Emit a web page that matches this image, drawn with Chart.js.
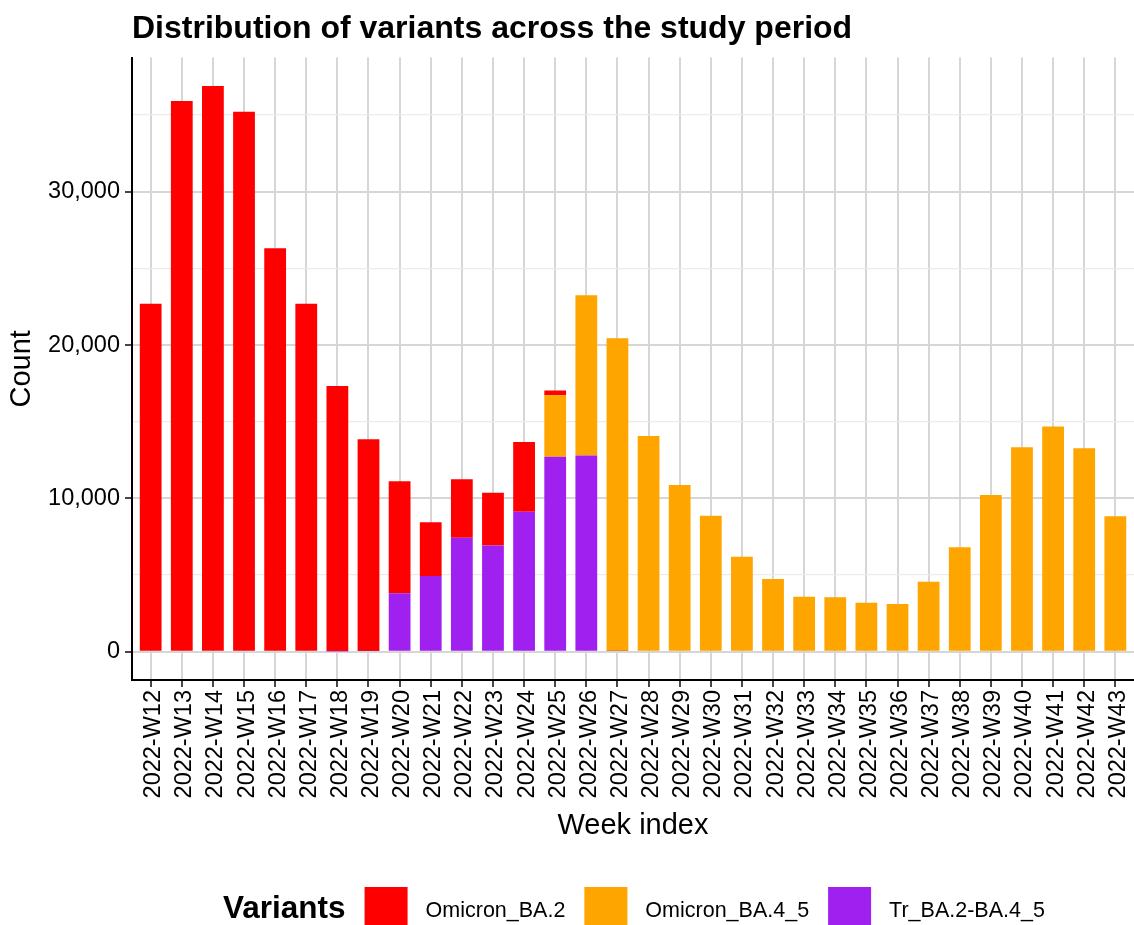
<!DOCTYPE html>
<html>
<head>
<meta charset="utf-8">
<script src="https://cdn.jsdelivr.net/npm/chart.js@4"></script>
<style>
  html, body { margin: 0; padding: 0; background: #ffffff; overflow: hidden; }
  #wrap { position: relative; width: 1134px; height: 925px; }
  canvas { display: block; }
</style>
</head>
<body>
<div id="wrap"><canvas id="c" width="1134" height="925"></canvas></div>
<script>
const weeks = ["2022-W12","2022-W13","2022-W14","2022-W15","2022-W16","2022-W17","2022-W18","2022-W19",
  "2022-W20","2022-W21","2022-W22","2022-W23","2022-W24","2022-W25","2022-W26","2022-W27",
  "2022-W28","2022-W29","2022-W30","2022-W31","2022-W32","2022-W33","2022-W34","2022-W35",
  "2022-W36","2022-W37","2022-W38","2022-W39","2022-W40","2022-W41","2022-W42","2022-W43"];
const omicronBA2 = [22700, 35920, 36900, 35220, 26310, 22690, 17300, 13810,
  7300, 3500, 3810, 3450, 4550, 310, 0, 0,
  0, 0, 0, 0, 0, 0, 0, 0, 0, 0, 0, 0, 0, 0, 0, 0];
const omicronBA45 = [0, 0, 0, 0, 0, 0, 0, 0,
  0, 0, 0, 0, 0, 4000, 10460, 20390,
  14070, 10870, 8870, 6200, 4740, 3590, 3550, 3200,
  3110, 4570, 6810, 10220, 13330, 14680, 13270, 8830];
const trBA2BA45 = [0, 0, 0, 0, 0, 0, 30, 40,
  3810, 4940, 7440, 6920, 9130, 12720, 12790, 50,
  0, 0, 0, 0, 0, 0, 0, 0, 0, 0, 0, 0, 0, 0, 0, 0];
const yTickValues = [0, 5000, 10000, 15000, 20000, 25000, 30000, 35000];
const variantNames = ["Omicron_BA.2", "Omicron_BA.4_5", "Tr_BA.2-BA.4_5"];
const variantColors = ["#FF0000", "#FFA500", "#A020F0"];

const FONT = '"Liberation Sans", Arial, Helvetica, sans-serif';
const yMaxData = 36900;
const toPoints = arr => arr.map((v, i) => ({ x: i, y: v }));

const titleAndLegend = {
  id: 'titleAndLegend',
  afterDraw(chart) {
    const ctx = chart.ctx;
    ctx.save();
    ctx.fillStyle = '#000';
    ctx.textBaseline = 'alphabetic';
    ctx.textAlign = 'left';
    ctx.font = 'bold 32px ' + FONT;
    ctx.fillText('Distribution of variants across the study period', 132, 38);
    let x = 223;
    ctx.font = 'bold 31.5px ' + FONT;
    ctx.fillText('Variants', x, 918);
    x += ctx.measureText('Variants').width + 19;
    ctx.font = '21.5px ' + FONT;
    for (let i = 0; i < variantNames.length; i++) {
      ctx.fillStyle = variantColors[i];
      ctx.fillRect(x, 887, 43, 43);
      x += 43 + 18;
      ctx.fillStyle = '#000';
      ctx.fillText(variantNames[i], x, 917);
      x += ctx.measureText(variantNames[i]).width + 19;
    }
    ctx.restore();
  }
};

new Chart(document.getElementById('c'), {
  type: 'bar',
  data: {
    datasets: [
      { label: variantNames[2], data: toPoints(trBA2BA45), backgroundColor: variantColors[2] },
      { label: variantNames[1], data: toPoints(omicronBA45), backgroundColor: variantColors[1] },
      { label: variantNames[0], data: toPoints(omicronBA2), backgroundColor: variantColors[0] }
    ]
  },
  options: {
    responsive: false,
    animation: false,
    events: [],
    barPercentage: 0.7,
    categoryPercentage: 1.0,
    layout: { padding: { top: 57.6, left: 0, right: 0, bottom: 65 } },
    plugins: { legend: { display: false }, title: { display: false }, tooltip: { enabled: false } },
    scales: {
      x: {
        type: 'linear',
        stacked: true,
        min: -0.6,
        max: weeks.length - 1 + 0.6,
        offset: false,
        afterBuildTicks(scale) { scale.ticks = weeks.map((w, i) => ({ value: i })); },
        afterFit(scale) { scale.height = 180; scale.paddingLeft = 0; scale.paddingRight = 0; },
        ticks: {
          autoSkip: false,
          maxRotation: 90, minRotation: 90,
          padding: 3,
          labelOffset: 3,
          color: '#000',
          font: { family: FONT, size: 23.5 },
          callback: v => weeks[v]
        },
        grid: {
          offset: false,
          color: '#d6d6d6', lineWidth: 2,
          drawTicks: true, tickLength: 7, tickColor: '#333333', tickWidth: 1.8
        },
        border: { display: true, color: '#000000', width: 2 },
        title: {
          display: true, text: 'Week index', color: '#000',
          font: { family: FONT, size: 29 }, padding: { top: 0, bottom: 17 }
        }
      },
      y: {
        stacked: true,
        min: -0.05 * yMaxData,
        max: 1.05 * yMaxData,
        afterBuildTicks(scale) { scale.ticks = yTickValues.map(v => ({ value: v })); },
        afterFit(scale) { scale.width = 132; scale.paddingTop = 0; scale.paddingBottom = 0; },
        ticks: {
          autoSkip: false,
          padding: 5,
          color: '#000',
          font: { family: FONT, size: 23.5 },
          callback: v => (v % 10000 === 0 ? v.toLocaleString('en-US') : '')
        },
        grid: {
          offset: false,
          color: c => (c.tick && c.tick.value % 10000 === 0 ? '#d6d6d6' : '#ebebeb'),
          lineWidth: c => (c.tick && c.tick.value % 10000 === 0 ? 2 : 1.2),
          drawTicks: true, tickLength: 7,
          tickColor: c => (c.tick && c.tick.value % 10000 === 0 ? '#333333' : 'rgba(0,0,0,0)'),
          tickWidth: 1.8
        },
        border: { display: true, color: '#000000', width: 2 },
        title: {
          display: true, text: 'Count', color: '#000',
          font: { family: FONT, size: 29 }, padding: { top: 5, bottom: 0 }
        }
      }
    }
  },
  plugins: [titleAndLegend]
});
</script>
</body>
</html>
